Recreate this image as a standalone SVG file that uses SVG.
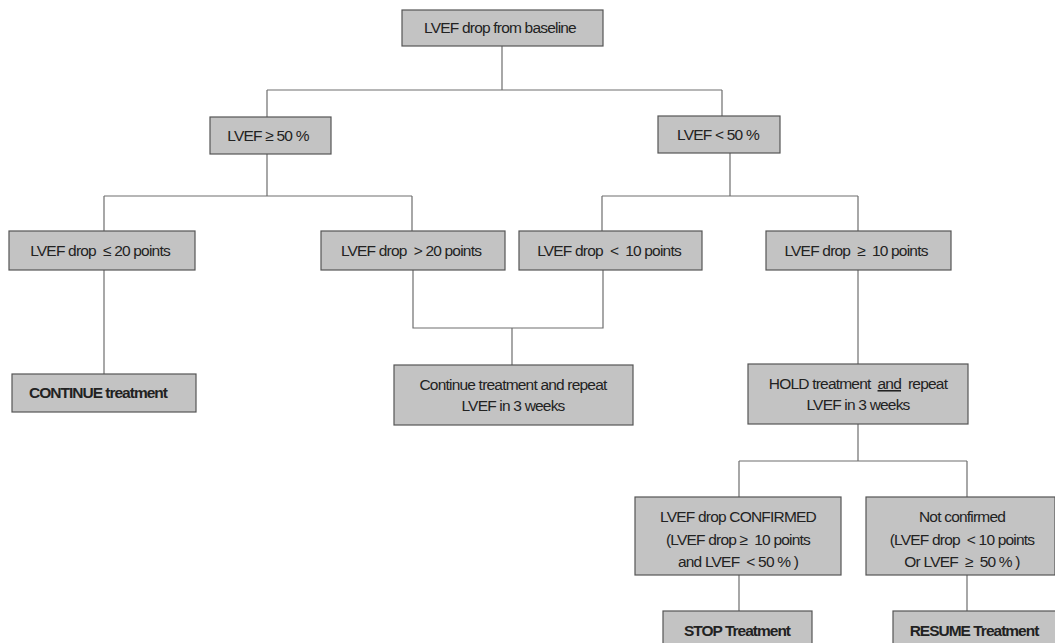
<svg xmlns="http://www.w3.org/2000/svg" width="1055" height="643" viewBox="0 0 1055 643">
<style>
.box{fill:#c3c3c3;stroke:#555;stroke-width:1.2}
.t{font-family:"Liberation Sans",Arial,sans-serif;font-size:15.5px;fill:#222;text-anchor:middle;letter-spacing:-0.8px}
.b{font-weight:bold;letter-spacing:-1px}
.c{fill:none;stroke:#6e6e6e;stroke-width:1.2}
</style>
<rect width="1055" height="643" fill="#fff"/>
<g id="connectors">
<path class="c" d="M502,46V90M267,90H722M267,90V117M722,90V116"/>
<path class="c" d="M267,154V196M104,196H412M104,196V231M412,196V231"/>
<path class="c" d="M730,153V196M602,196H858M602,196V231M858,196V231"/>
<path class="c" d="M104,270V374"/>
<path class="c" d="M413,270V328H603V270M512,328V365"/>
<path class="c" d="M858,270V364"/>
<path class="c" d="M858,424V461M739,461H967M739,461V497M967,461V497"/>
<path class="c" d="M739,575V611M967,575V611"/>
</g>
<g id="n-top"><rect class="box" x="402" y="10" width="201" height="36"/><text class="t" x="500" y="33">LVEF drop from baseline</text></g>
<g id="n-ge50"><rect class="box" x="210" y="117" width="121" height="37"/><text class="t" x="268" y="141">LVEF ≥ 50 %</text></g>
<g id="n-lt50"><rect class="box" x="658" y="116" width="122" height="37"/><text class="t" x="718" y="140">LVEF &lt; 50 %</text></g>
<g id="n-le20"><rect class="box" x="9" y="231" width="186" height="39"/><text class="t" x="100" y="256" xml:space="preserve">LVEF drop  ≤ 20 points</text></g>
<g id="n-gt20"><rect class="box" x="321" y="231" width="184" height="39"/><text class="t" x="411" y="256" xml:space="preserve">LVEF drop  &gt; 20 points</text></g>
<g id="n-lt10"><rect class="box" x="519" y="231" width="183" height="39"/><text class="t" x="609" y="256" xml:space="preserve">LVEF drop  &lt;  10 points</text></g>
<g id="n-ge10"><rect class="box" x="766" y="231" width="185" height="39"/><text class="t" x="856" y="256" xml:space="preserve">LVEF drop  ≥  10 points</text></g>
<g id="n-continue"><rect class="box" x="12" y="374" width="184" height="38"/><text class="t b" x="98" y="398">CONTINUE treatment</text></g>
<g id="n-repeat"><rect class="box" x="394" y="365" width="239" height="60"/><text class="t" x="513" y="390">Continue treatment and repeat</text><text class="t" x="513" y="411">LVEF in 3 weeks</text></g>
<g id="n-hold"><rect class="box" x="748" y="364" width="220" height="60"/><text class="t" x="858" y="389" xml:space="preserve">HOLD treatment  <tspan text-decoration="underline">and</tspan>  repeat</text><text class="t" x="858" y="410">LVEF in 3 weeks</text></g>
<g id="n-confirmed"><rect class="box" x="635" y="497" width="206" height="78"/><text class="t" x="738" y="522">LVEF drop CONFIRMED</text><text class="t" x="738" y="545" xml:space="preserve">(LVEF drop ≥  10 points</text><text class="t" x="738" y="567" xml:space="preserve">and LVEF  &lt; 50 % )</text></g>
<g id="n-notconfirmed"><rect class="box" x="866" y="497" width="189" height="78"/><text class="t" x="962" y="522">Not confirmed</text><text class="t" x="962" y="545" xml:space="preserve">(LVEF drop  &lt; 10 points</text><text class="t" x="962" y="567" xml:space="preserve">Or LVEF  ≥  50 % )</text></g>
<g id="n-stop"><rect class="box" x="663" y="611" width="149" height="40"/><text class="t b" x="737" y="636">STOP Treatment</text></g>
<g id="n-resume"><rect class="box" x="893" y="611" width="170" height="40"/><text class="t b" x="974" y="636">RESUME Treatment</text></g>
</svg>
